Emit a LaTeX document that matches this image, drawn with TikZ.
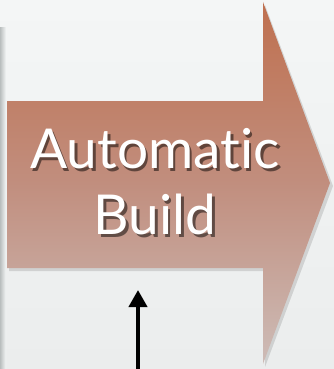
\documentclass[tikz,border=0pt]{standalone}
\usepackage{fontspec}
\setmainfont[Ligatures=NoCommon]{Lato}
\usetikzlibrary{arrows.meta}
\definecolor{bgtop}{HTML}{F4F6F6}
\definecolor{bgbot}{HTML}{EBEDED}
\definecolor{artop}{HTML}{BF704F}
\definecolor{armid}{HTML}{C18E7E}
\definecolor{arbot}{HTML}{CDBCB7}
\definecolor{strip}{HTML}{B9BEBE}
\tikzset{
  bigarrow/.style={top color=artop, bottom color=arbot, middle color=armid, draw=none},
  labeltext/.style={font=\fontsize{55}{66}\selectfont, align=center, inner sep=0pt},
  pointer/.style={line width=4pt, -{Triangle[width=18pt,length=17pt]}}
}
\begin{document}
\begin{tikzpicture}[x=1pt,y=-1pt]
\useasboundingbox (0,0) rectangle (334,369);
\fill[top color=bgtop,bottom color=bgbot] (0,0) rectangle (334,369);
% left strip (edge of neighbouring shape)
\fill[left color=strip, right color=bgtop] (0,28) rectangle (6,369);
% shadow
\fill[black, opacity=0.12] (9,104)--(265,104)--(265,5)--(333,186)--(265,367)--(265,271)--(9,271)--cycle;
% arrow
\path[bigarrow] (7,101)--(263,101)--(263,2)--(330,183)--(263,364)--(263,268)--(7,268)--cycle;
% text
\node[labeltext, black, opacity=0.5] at (157.5,184.5) {Automatic\\Build};
\node[labeltext, white] (label) at (155,182) {Automatic\\Build};
\coordinate (bot) at (138,369);
\coordinate (tip) at (138,290);
\draw[pointer] (bot) -- (tip);
\end{tikzpicture}
\end{document}
